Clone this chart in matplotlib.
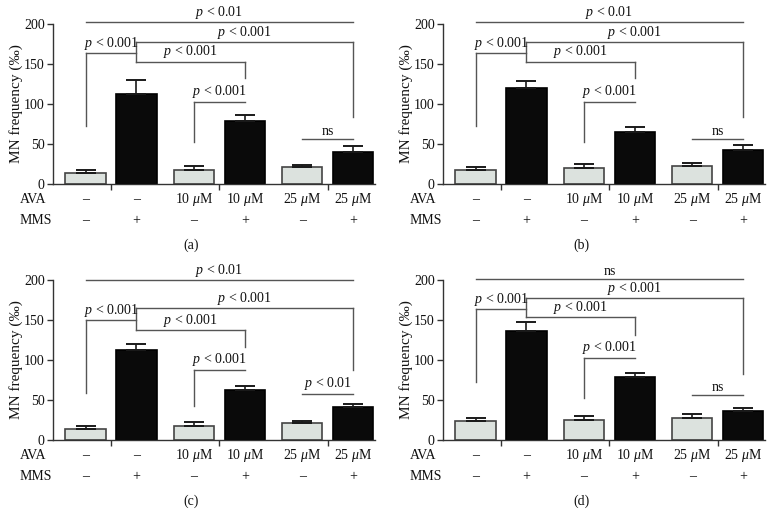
"""Micronucleus frequency bar charts, four panels (a)-(d)."""
import matplotlib
matplotlib.use("Agg")
import matplotlib.pyplot as plt

plt.rcParams["font.family"] = ["Liberation Serif", "DejaVu Serif"]
plt.rcParams["mathtext.fontset"] = "custom"
plt.rcParams["mathtext.rm"] = "Liberation Serif"
plt.rcParams["mathtext.it"] = "Liberation Serif:italic"

AVA = ["–", "–", "10 $\\mathit{\\mu}$M", "10 $\\mathit{\\mu}$M", "25 $\\mathit{\\mu}$M", "25 $\\mathit{\\mu}$M"]
MMS = ["–", "+", "–", "+", "–", "+"]

A_MEAN = [14, 113, 18, 79, 21, 40]
A_SEM = [3, 17, 4, 7, 3, 8]
B_MEAN = [18, 120, 20, 65, 22, 43]
B_SEM = [3, 9, 5, 6, 4, 6]
C_MEAN = [14, 112, 18, 63, 21, 41]
C_SEM = [3, 8, 4, 5, 3, 4]
D_MEAN = [24, 136, 25, 79, 28, 36]
D_SEM = [3, 11, 5, 5, 4, 4]

# (bar i, bar j, height, left drop to, right drop to, label)
BR_AB = [
    (0, 5, 202, None, None, "$p$ < 0.01"),
    (1, 5, 177, 153, 84, "$p$ < 0.001"),
    (0, 1, 164, 73, None, "$p$ < 0.001"),
    (1, 3, 153, None, 132, "$p$ < 0.001"),
    (2, 3, 103, 52, None, "$p$ < 0.001"),
    (4, 5, 56, None, None, "ns"),
]
BR_C = [
    (0, 5, 200, None, None, "$p$ < 0.01"),
    (1, 5, 165, 137, 88, "$p$ < 0.001"),
    (0, 1, 150, 59, None, "$p$ < 0.001"),
    (1, 3, 137, None, 116, "$p$ < 0.001"),
    (2, 3, 88, 43, None, "$p$ < 0.001"),
    (4, 5, 58, None, None, "$p$ < 0.01"),
]
BR_D = [
    (0, 5, 201, None, None, "ns"),
    (1, 5, 177, 154, 83, "$p$ < 0.001"),
    (0, 1, 164, 73, None, "$p$ < 0.001"),
    (1, 3, 154, None, 131, "$p$ < 0.001"),
    (2, 3, 103, 52, None, "$p$ < 0.001"),
    (4, 5, 56, None, None, "ns"),
]

PANELS = [
    ("(a)", A_MEAN, A_SEM, BR_AB, 53, 184),
    ("(b)", B_MEAN, B_SEM, BR_AB, 443, 184),
    ("(c)", C_MEAN, C_SEM, BR_C, 53, 440),
    ("(d)", D_MEAN, D_SEM, BR_D, 443, 440),
]

XPOS = [-0.47, 0.47, 1.53, 2.47, 3.53, 4.47]
LIGHT = "#dce2de"
LINE = "#555555"
TXT = "#111111"
W, H = 783, 529

fig = plt.figure(figsize=(W / 100, H / 100), dpi=100)

for tag, mean, sem, brs, left_px, zero_px in PANELS:
    ax = fig.add_axes([left_px / W, (H - zero_px) / H, 322 / W, 160 / H])
    cols = [LIGHT if k % 2 == 0 else "#0a0a0a" for k in range(6)]
    edges = ["#444444" if k % 2 == 0 else "#000000" for k in range(6)]
    ax.bar(XPOS, mean, width=0.74, color=cols, edgecolor=edges, linewidth=1.2, zorder=2)
    ax.errorbar(XPOS, mean, yerr=[[0] * 6, sem], fmt="none", ecolor="#1a1a1a",
                elinewidth=1.2, capsize=7, capthick=1.4, zorder=3)

    for i, j, y, yl, yr, lab in brs:
        x1, x2 = XPOS[i], XPOS[j]
        ax.plot([x1, x2], [y, y], color=LINE, lw=1.0, clip_on=False, zorder=1)
        if yl is not None:
            ax.plot([x1, x1], [y, yl], color=LINE, lw=1.0, clip_on=False, zorder=1)
        if yr is not None:
            ax.plot([x2, x2], [y, yr], color=LINE, lw=1.0, clip_on=False, zorder=1)
        ax.text((x1 + x2) / 2, y + 1.5, lab, ha="center", va="bottom",
                fontsize=10, color=TXT, clip_on=False)

    ax.set_xlim(-1.07, 4.87)
    ax.set_ylim(0, 200)
    ax.set_yticks([0, 50, 100, 150, 200])
    ax.set_xticks([0, 2, 4])
    ax.set_xticklabels([])
    ax.tick_params(axis="both", direction="out", length=4, width=1.0, color="#333333",
                   labelsize=10, labelcolor=TXT, pad=2)
    ax.spines[["top", "right"]].set_visible(False)
    for s in ("left", "bottom"):
        ax.spines[s].set_color("#333333")
        ax.spines[s].set_linewidth(1.0)
    ax.set_ylabel("MN frequency (‰)", fontsize=11, color=TXT, labelpad=1)

    # AVA / MMS rows under the axis
    for k in range(6):
        ax.text(XPOS[k], -19, AVA[k], ha="center", va="center", fontsize=10, color=TXT, clip_on=False)
        ax.text(XPOS[k], -46, MMS[k], ha="center", va="center", fontsize=10, color=TXT, clip_on=False)
    ax.text(-1.68, -19, "AVA", ha="left", va="center", fontsize=10, color=TXT, clip_on=False)
    ax.text(-1.68, -46, "MMS", ha="left", va="center", fontsize=10, color=TXT, clip_on=False)
    fig.text((left_px + 138) / W, (H - zero_px - 61) / H, tag, ha="center", va="center",
             fontsize=10, color=TXT)

fig.savefig("out.png", dpi=100)
